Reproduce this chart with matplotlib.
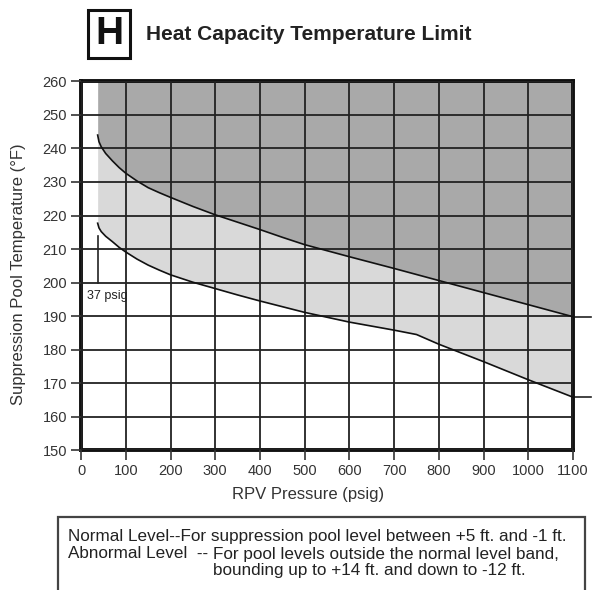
import matplotlib.pyplot as plt
from matplotlib.patches import Rectangle

plt.rcParams['font.family'] = ['Liberation Sans', 'DejaVu Sans']

# RPV pressure (psig) and the two limit curves (deg F)
pressure = [37, 40, 45, 55, 70, 85, 100, 125, 150, 175, 200, 250, 300, 350, 400, 450,
            500, 600, 700, 750, 800, 900, 1000, 1100]
abnormal_limit = [244, 242, 240.5, 238.5, 236.3, 234.3, 232.6, 230.3, 228.3, 226.8, 225.4, 222.7,
                  220.2, 218, 215.8, 213.5, 211.3, 207.7, 204.2, 202.4, 200.6, 197, 193.4, 189.8]
normal_limit = [217.7, 216.3, 215.2, 213.8, 212.2, 210.5, 209.1, 207, 205.2, 203.7, 202.3, 200.1,
                198.2, 196.3, 194.5, 192.8, 191.1, 188.2, 185.8, 184.5, 181.6, 176.4, 171, 165.8]

x_ticks = list(range(0, 1101, 100))
y_ticks = list(range(150, 261, 10))
note_line1 = "Normal Level--For suppression pool level between +5 ft. and -1 ft."
note_line2a = "Abnormal Level  --"
note_line2b = "For pool levels outside the normal level band,"
note_line3 = "bounding up to +14 ft. and down to -12 ft."

fig = plt.figure(figsize=(5.92, 5.90), dpi=100)
ax = fig.add_axes([0.137, 0.237, 0.831, 0.625])

ax.fill_between(pressure, abnormal_limit, 260, color='#a9a9a9', lw=0, zorder=1)
ax.fill_between(pressure, normal_limit, abnormal_limit, color='#d9d9d9', lw=0, zorder=1)
ax.plot(pressure, abnormal_limit, color='#111111', lw=1.2, zorder=3)
ax.plot(pressure, normal_limit, color='#111111', lw=1.2, zorder=3)

# right side markers past the axis
ax.plot([1100, 1140], [abnormal_limit[-1], abnormal_limit[-1]], color='#222222', lw=1.2, clip_on=False)
ax.plot([1100, 1140], [normal_limit[-1], normal_limit[-1]], color='#222222', lw=1.2, clip_on=False)

# 37 psig marker
ax.plot([37, 37], [214, 200], color='#222222', lw=1.2, zorder=3)
ax.text(13, 196, "37 psig", fontsize=9, color='#222222', va='center', zorder=4)

ax.set_xlim(0, 1100)
ax.set_ylim(150, 260)
ax.set_xticks(x_ticks)
ax.set_yticks(y_ticks)
ax.grid(True, color='#222222', lw=1.3)
ax.set_axisbelow(False)
for s in ax.spines.values():
    s.set_linewidth(2.8)
    s.set_color('#111111')
ax.tick_params(direction='out', length=7, width=1.2, color='#333333',
               labelsize=10.5, labelcolor='#333333', pad=3)

ax.set_xlabel("RPV Pressure (psig)", fontsize=12, color='#333333')
ax.xaxis.set_label_coords((308 - 81) / 492, -37 / 368.5)
ax.set_ylabel("Suppression Pool Temperature (°F)", fontsize=12, color='#333333')
ax.yaxis.set_label_coords(-55 / 492, (450 - 274) / 368.5)

# title with boxed H
fig.add_artist(Rectangle((88 / 592, 1 - 58 / 590), 42 / 592, 48 / 590, transform=fig.transFigure,
                         fill=False, lw=2.2, ec='#111111'))
fig.text(109 / 592, 1 - 34 / 590, "H", fontsize=28, fontweight='bold', ha='center', va='center', color='#111111')
fig.text(146 / 592, 1 - 35 / 590, "Heat Capacity Temperature Limit", fontsize=15, fontweight='bold',
         ha='left', va='center', color='#222222')

# note box
fig.add_artist(Rectangle((58 / 592, -0.05), 527 / 592, 0.05 + 1 - 517 / 590, transform=fig.transFigure,
                         fill=False, lw=1.6, ec='#444444'))
note_kw = dict(fontsize=12.3, color='#222222', va='center', ha='left')
fig.text(68 / 592, 1 - 536 / 590, note_line1, **note_kw)
fig.text(68 / 592, 1 - 554 / 590, note_line2a, **note_kw)
fig.text(213 / 592, 1 - 554 / 590, note_line2b, **note_kw)
fig.text(213 / 592, 1 - 571 / 590, note_line3, **note_kw)

fig.savefig("out.png", dpi=100)
